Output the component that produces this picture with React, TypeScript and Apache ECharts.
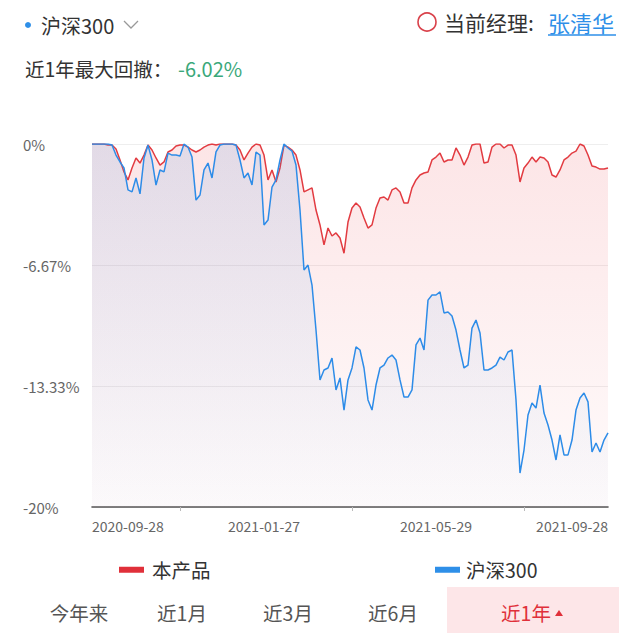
import React, { useEffect, useRef } from "react";
import * as echarts from "echarts";

const anchorDates = ["2020-09-28", "2021-01-27", "2021-05-29", "2021-09-28"];
const anchorIndex = [0, 43, 86, 129];
const tickIndex = [22, 65, 108];

const productValues = [
  0, 0, 0, 0, -0.06, -0.06, -0.28, -0.88, -1.54, -1.98,
  -1.32, -0.77, -1.05, -0.61, -0.06, -0.33, -0.77, -1.16, -0.99, -0.44,
  -0.33, -0.11, -0.06, -0.06, -0.17, -0.33, -0.44, -0.33, -0.17, -0.06,
  0, -0.06, 0, 0, 0, 0, -0.06, -0.33, -0.88, -0.5,
  -0.17, 0, -0.06, -0.61, -1.98, -1.43, -2.09, -1.32, -0.06, -0.17,
  -0.33, -0.61, -1.43, -2.64, -2.53, -2.42, -3.64, -4.46, -5.56, -4.63,
  -5.07, -4.9, -5.18, -6.02, -4.3, -3.53, -3.25, -3.47, -4.08, -4.63,
  -4.46, -3.53, -2.98, -2.92, -3.09, -2.53, -2.42, -2.64, -3.25, -3.25,
  -2.42, -1.98, -1.71, -1.6, -1.54, -0.88, -0.72, -0.5, -0.99, -0.88,
  -0.88, -0.22, -0.61, -1.16, -0.72, -0.06, 0, 0, -1.05, -0.99,
  -0.17, 0, 0, -0.22, -0.06, -0.06, -0.61, -2.09, -1.32, -1.05,
  -0.72, -0.99, -0.72, -0.77, -0.99, -1.71, -1.82, -1.43, -0.88, -0.72,
  -0.5, -0.39, 0, -0.11, -0.61, -1.21, -1.27, -1.38, -1.38, -1.32,
];

const indexValues = [
  0, 0, 0, 0, 0, -0.06, -0.61, -0.99, -1.32, -2.53,
  -2.64, -1.87, -2.75, -0.77, -0.06, -0.88, -2.26, -1.43, -1.54, -0.5,
  -0.61, -0.61, -0.66, 0, -0.17, -0.72, -3.09, -2.81, -1.43, -1.05,
  -1.87, -0.44, -0.06, 0, 0, 0, -0.06, -0.88, -1.87, -1.6,
  -2.26, -0.44, -0.61, -4.46, -4.19, -2.37, -1.98, -0.88, 0, -0.22,
  -0.39, -1.16, -3.64, -6.94, -6.67, -7.77, -10.25, -13.0, -12.45, -12.34,
  -11.79, -13.55, -12.89, -14.66, -13.0, -12.34, -11.18, -11.35, -12.34, -14.1,
  -14.66, -13.28, -12.34, -12.18, -11.79, -11.63, -11.9, -13.0, -13.94, -13.94,
  -13.55, -11.07, -10.69, -11.35, -8.6, -8.32, -8.32, -8.15, -9.31, -9.26,
  -9.48, -10.25, -11.35, -12.34, -12.18, -10.14, -9.7, -10.41, -12.45, -12.45,
  -12.34, -12.18, -11.74, -11.9, -11.46, -11.35, -14.1, -18.13, -16.86, -14.93,
  -14.27, -14.55, -13.28, -14.82, -15.48, -16.31, -17.41, -16.03, -17.13, -17.13,
  -16.31, -14.66, -13.99, -13.72, -14.21, -16.97, -16.47, -16.97, -16.31, -15.92,
];

const seriesNames = ["本产品", "沪深300"];
const tabLabels = ["今年来", "近1月", "近3月", "近6月", "近1年"];
const yTicks = { min: -20, max: 0, interval: 20 / 3 };

function buildDates(): string[] {
  const out: string[] = [];
  const DAY = 86400000;
  for (let s = 0; s < anchorDates.length - 1; s++) {
    const a = Date.parse(anchorDates[s] + "T00:00:00Z");
    const b = Date.parse(anchorDates[s + 1] + "T00:00:00Z");
    const n = anchorIndex[s + 1] - anchorIndex[s];
    const days = Math.round((b - a) / DAY);
    for (let k = 0; k < n; k++) {
      const d = new Date(a + Math.round((k * days) / n) * DAY);
      out.push(d.toISOString().slice(0, 10));
    }
  }
  out.push(anchorDates[anchorDates.length - 1]);
  return out;
}

const FONT = "'Noto Sans CJK SC', 'Noto Sans', sans-serif";

export default function App() {
  const ref = useRef<HTMLDivElement>(null);
  useEffect(() => {
    if (!ref.current) return;
    const chart = echarts.init(ref.current, undefined, { renderer: "svg" });
    const dates = buildDates();
    const tabCenters = [79, 182, 288, 393, 526];
    const graphics: any[] = [
      { type: "circle", shape: { cx: 28, cy: 25, r: 3 }, style: { fill: "#2e8fe8" } },
      { type: "text", x: 41, y: 25, style: { text: "沪深300", fontSize: 20, fill: "#333", fontFamily: FONT, textVerticalAlign: "middle" } },
      { type: "polyline", shape: { points: [[124, 21], [131, 28], [138, 21]] }, style: { stroke: "#999", lineWidth: 1.3, fill: "none" } },
      { type: "circle", shape: { cx: 427, cy: 22, r: 9 }, style: { fill: "none", stroke: "#d9414a", lineWidth: 1.6 } },
      { type: "text", x: 444, y: 22, style: { text: "当前经理:", fontSize: 21, fill: "#333", fontFamily: FONT, textVerticalAlign: "middle" } },
      { type: "text", x: 548, y: 22, style: { text: "张清华", fontSize: 22, fill: "#2e8fe8", fontFamily: FONT, textVerticalAlign: "middle" } },
      { type: "line", shape: { x1: 548, y1: 35, x2: 616, y2: 35 }, style: { stroke: "#2e8fe8", lineWidth: 1.3 } },
      { type: "text", x: 25, y: 68, style: { text: "近1年最大回撤：", fontSize: 19.5, fill: "#333", fontFamily: FONT, textVerticalAlign: "middle" } },
      { type: "text", x: 178, y: 68, style: { text: "-6.02%", fontSize: 20, fill: "#3aa87a", fontFamily: FONT, textVerticalAlign: "middle" } },
      { type: "rect", shape: { x: 447, y: 587, width: 172, height: 46 }, style: { fill: "#fde6e8" } },
      { type: "polygon", shape: { points: [[555, 616], [563, 616], [559, 610]] }, style: { fill: "#e0303a" } },
    ];
    tabLabels.forEach((t, i) => {
      graphics.push({
        type: "text",
        x: tabCenters[i],
        y: 612,
        style: {
          text: t,
          fontSize: 19.5,
          fill: i === 4 ? "#e0303a" : "#555",
          fontFamily: FONT,
          textAlign: "center",
          textVerticalAlign: "middle",
        },
      });
    });

    chart.setOption({
      animation: false,
      backgroundColor: "#fff",
      textStyle: { fontFamily: FONT },
      grid: { left: 92, right: 32, top: 144, bottom: 126, containLabel: false },
      legend: [
        {
          data: [seriesNames[0]],
          left: 114,
          top: 555,
          itemWidth: 25,
          itemHeight: 6,
          icon: "rect",
          textStyle: { fontSize: 19.5, color: "#333", fontFamily: FONT, padding: [0, 0, 0, 3] },
        },
        {
          data: [seriesNames[1]],
          left: 430,
          top: 555,
          itemWidth: 25,
          itemHeight: 6,
          icon: "rect",
          textStyle: { fontSize: 19.5, color: "#333", fontFamily: FONT, padding: [0, 0, 0, 1] },
        },
      ],
      xAxis: {
        type: "category",
        data: dates,
        boundaryGap: false,
        axisLine: { show: true, onZero: false, lineStyle: { color: "#555", width: 1.6 } },
        axisTick: {
          show: true,
          length: 4,
          interval: (idx: number) => tickIndex.includes(idx),
          lineStyle: { color: "#bbb" },
        },
        axisLabel: {
          interval: (idx: number) => anchorIndex.includes(idx),
          color: "#666",
          fontSize: 14,
          margin: 12,
          fontFamily: FONT,
          alignMinLabel: "left",
          alignMaxLabel: "right",
          showMinLabel: true,
          showMaxLabel: true,
        },
        splitLine: { show: false },
      },
      yAxis: {
        type: "value",
        min: yTicks.min,
        max: yTicks.max,
        interval: yTicks.interval,
        axisLine: { show: false },
        axisTick: { show: false },
        axisLabel: {
          align: "left",
          margin: 69,
          color: "#666",
          fontSize: 15,
          fontFamily: FONT,
          formatter: (v: number) => `${Math.round(v * 100) / 100}%`,
        },
        splitLine: { show: true, lineStyle: { color: "#eeeeee" } },
      },
      series: [
        {
          name: seriesNames[0],
          type: "line",
          data: productValues,
          symbol: "none",
          color: "#e0303a",
          lineStyle: { color: "#e23b41", width: 1.5 },
          areaStyle: {
            origin: "start",
            color: new echarts.graphic.LinearGradient(0, 0, 0, 1, [
              { offset: 0, color: "rgba(235,70,80,0.2)" },
              { offset: 1, color: "rgba(235,70,80,0.03)" },
            ]),
          },
          z: 2,
        },
        {
          name: seriesNames[1],
          type: "line",
          data: indexValues,
          symbol: "none",
          color: "#2e8fe8",
          lineStyle: { color: "#2d8ce8", width: 1.5 },
          areaStyle: {
            origin: "start",
            color: new echarts.graphic.LinearGradient(0, 0, 0, 1, [
              { offset: 0, color: "rgba(47,143,230,0.18)" },
              { offset: 1, color: "rgba(47,143,230,0.02)" },
            ]),
          },
          z: 3,
        },
      ],
      graphic: graphics,
    });
    return () => chart.dispose();
  }, []);
  return (
    <div
      ref={ref}
      style={{ position: "absolute", left: 0, top: 0, width: 640, height: 633, background: "#fff" }}
    />
  );
}
